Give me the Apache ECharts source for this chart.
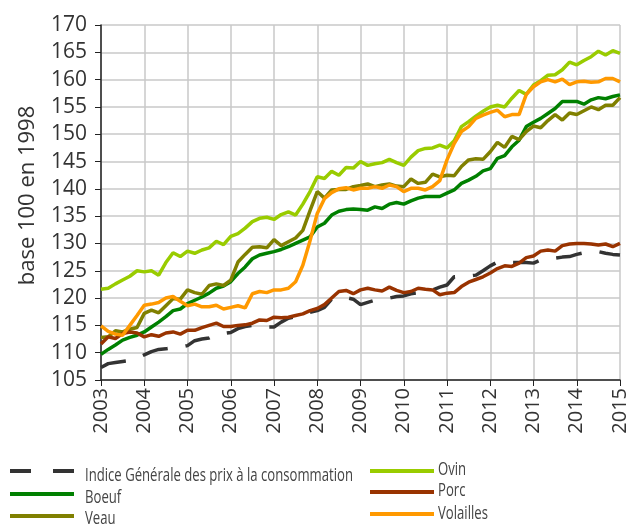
<!DOCTYPE html>
<html>
    <head>
        <meta charset="utf-8">
        <title>Prix à la consommation des viandes</title>
        <script src="https://cdn.jsdelivr.net/npm/echarts@6/dist/echarts.min.js"></script>
        <style>
            body { margin: 0; background: #fff; }
        </style>
    </head>
    <body>
        <div id="chart" style="width: 630px;height: 527px;"></div>
        <script>
            // one point every two months, jan 2003 -> jan 2015
            var months = [];
            for (var y = 2003; y <= 2015; y++) {
                ['01','03','05','07','09','11'].forEach(function (m) {
                    if (y < 2015 || m === '01') months.push(y + '-' + m);
                });
            }

            var indice = [107.3,108.0,108.2,108.4,108.6,109.0, 109.6,110.2,110.6,110.7,110.9,111.0,
                          111.3,112.2,112.5,112.7,113.3,113.5, 113.7,114.4,114.8,115.0,114.8,114.7,
                          114.7,115.6,116.3,116.6,117.0,117.4, 117.7,118.3,119.8,120.1,120.1,119.8,
                          118.8,119.2,119.6,119.8,120.0,120.3, 120.4,120.8,121.0,121.2,121.5,122.0,
                          122.4,123.9,123.9,124.0,124.2,125.0, 125.9,126.6,126.7,126.5,126.5,126.5,
                          126.4,127.0,127.3,127.3,127.5,127.6, 128.0,128.3,128.5,128.5,128.2,128.0, 127.9];
            var boeuf = [109.7,110.6,111.4,112.3,112.8,113.2, 113.8,114.7,115.6,116.6,117.7,118.0,
                         119.0,119.6,120.2,120.9,121.8,122.2, 123.0,124.5,125.7,127.2,127.9,128.2,
                         128.5,128.9,129.4,130.0,130.6,131.2, 133.0,133.7,135.2,135.9,136.2,136.3,
                         136.2,136.1,136.7,136.4,137.2,137.5, 137.2,137.8,138.3,138.6,138.6,138.6,
                         139.2,139.8,141.0,141.6,142.3,143.3, 143.7,145.6,146.1,147.7,148.9,151.4,
                         152.2,152.9,153.8,154.7,156.0,156.0, 156.0,155.5,156.3,156.7,156.5,156.9, 157.2];
            var veau = [112.8,112.9,114.0,113.8,114.3,114.6, 117.2,117.8,117.3,118.6,119.9,119.8,
                        121.5,121.0,120.7,122.3,122.6,122.3, 123.3,126.6,128.0,129.3,129.4,129.2,
                        130.7,129.6,130.3,131.0,132.4,136.0, 139.5,138.3,139.8,139.9,139.9,140.4,
                        140.6,140.9,140.4,140.7,140.9,140.5, 140.4,141.8,141.0,141.2,142.7,142.2,
                        142.5,142.4,144.1,145.3,145.5,145.4, 146.8,148.5,147.6,149.6,149.0,150.5,
                        151.5,151.2,152.5,153.6,152.6,153.9, 153.6,154.3,155.0,154.5,155.3,155.3, 156.7];
            var ovin = [121.6,121.8,122.6,123.3,124.0,125.0, 124.8,125.0,124.2,126.5,128.3,127.6,
                        128.6,128.2,128.8,129.2,130.4,129.8, 131.3,131.8,132.8,134.0,134.6,134.8,
                        134.4,135.3,135.8,135.2,137.2,139.5, 142.2,141.9,143.2,142.5,143.9,143.8,
                        145.0,144.3,144.6,144.8,145.4,144.8, 144.3,145.8,147.0,147.4,147.5,148.0,
                        147.5,148.8,151.4,152.3,153.3,154.2, 155.0,155.3,155.0,156.6,158.0,157.3,
                        159.0,159.8,160.8,160.9,161.8,163.2, 162.7,163.5,164.2,165.2,164.5,165.3, 164.8];
            var porc = [111.6,112.9,112.6,113.5,113.8,113.6, 112.9,113.3,113.0,113.6,113.8,113.4,
                        114.1,114.1,114.6,115.0,115.4,114.8, 114.8,115.0,115.1,115.4,116.0,115.9,
                        116.5,116.4,116.5,116.8,117.1,117.7, 118.1,118.8,120.0,121.2,121.4,120.8,
                        121.5,121.8,121.5,121.3,122.0,121.4, 121.0,121.2,121.8,121.6,121.5,120.6,
                        120.9,121.0,122.1,122.9,123.4,123.9, 124.6,125.4,125.9,125.8,126.4,127.4,
                        127.7,128.6,128.8,128.6,129.6,129.9, 130.0,130.0,129.9,129.7,129.9,129.4, 130.0];
            var volailles = [114.9,113.9,113.4,113.2,115.0,116.8, 118.7,118.9,119.2,120.0,120.3,119.4,
                             118.6,118.9,118.4,118.4,118.7,118.0, 118.3,118.6,118.2,120.8,121.2,121.0,
                             121.5,121.5,121.8,123.0,126.0,130.5, 135.5,138.2,139.3,140.0,140.2,139.8,
                             140.1,140.1,140.4,140.1,140.7,140.4, 139.5,140.1,140.1,139.8,140.4,141.5,
                             145.3,148.3,150.5,151.4,152.9,153.5, 154.0,154.4,153.2,153.6,153.6,157.3,
                             158.7,159.6,160.0,159.6,160.1,159.1, 159.6,159.7,159.5,159.6,160.2,160.2, 159.6];

            var names = ['Indice Générale des prix à la consommation', 'Boeuf', 'Veau', 'Ovin', 'Porc', 'Volailles'];
            var colors = ['#333333', '#008000', '#808000', '#99cc00', '#993300', '#ff9900'];
            var values = [indice, boeuf, veau, ovin, porc, volailles];

            var font = 'Open Sans';
            var legendFontSize = 18;

            // the legend font of the original is a condensed one, none is installed:
            // squeeze a normal one horizontally so the long label fits its width
            var ctx = document.createElement('canvas').getContext('2d');
            ctx.font = legendFontSize + 'px ' + font;
            var squeeze = 268 / ctx.measureText(names[0]).width;

            // legend rows drawn by hand (two columns)
            var legendPos = [
                { x: 10, y: 471, ty: 476 }, { x: 10, y: 494, ty: 498 }, { x: 10, y: 516, ty: 519 },
                { x: 370, y: 471, ty: 470 }, { x: 370, y: 492, ty: 491 }, { x: 370, y: 514, ty: 514 }
            ];
            var legendItems = [];
            names.forEach(function (n, i) {
                var p = legendPos[i];
                legendItems.push({
                    type: 'line',
                    shape: { x1: p.x, y1: p.y, x2: p.x + 64, y2: p.y },
                    style: { stroke: colors[i], lineWidth: 4, lineDash: i === 0 ? [21, 22] : null }
                });
                legendItems.push({
                    type: 'text',
                    x: p.x + (i < 3 ? 75 : 68), y: p.ty,
                    scaleX: squeeze,
                    style: {
                        text: n, fill: '#444',
                        fontFamily: font, fontSize: legendFontSize,
                        verticalAlign: 'middle'
                    }
                });
            });

            var series = names.map(function (n, i) {
                return {
                    name: n,
                    type: 'line',
                    data: values[i],
                    symbol: 'none',
                    z: i === 0 ? 1 : 2,
                    lineStyle: { color: colors[i], width: 3.5, type: i === 0 ? [26, 18] : 'solid' },
                    itemStyle: { color: colors[i] }
                };
            });

            var option = {
                animation: false,
                grid: { left: 101, right: 10, top: 25, bottom: 147 },
                graphic: legendItems,
                xAxis: {
                    type: 'category',
                    data: months,
                    boundaryGap: false,
                    axisLine: { lineStyle: { color: '#222', width: 1.5 } },
                    axisTick: { interval: 5, length: 6, lineStyle: { color: '#222' } },
                    splitLine: { show: true, interval: 5, lineStyle: { color: '#c8c8c8', width: 1.5 } },
                    axisLabel: {
                        interval: 5, rotate: 90, margin: 8,
                        fontFamily: font, fontSize: 20, color: '#333',
                        formatter: function (v) { return v.slice(0, 4); }
                    }
                },
                yAxis: {
                    type: 'value',
                    min: 105, max: 170, interval: 5,
                    name: 'base 100 en 1998',
                    nameLocation: 'middle', nameGap: 62, nameRotate: 90,
                    nameTextStyle: { fontFamily: font, fontSize: 22, color: '#333', padding: [0, 0, 0, 14] },
                    axisLine: { show: true, lineStyle: { color: '#222', width: 1.5 } },
                    axisTick: { show: true, length: 6, lineStyle: { color: '#222' } },
                    splitLine: { lineStyle: { color: '#c8c8c8', width: 1.5 } },
                    axisLabel: { margin: 14, fontFamily: font, fontSize: 21, color: '#333' }
                },
                series: series
            };

            var chart = echarts.init(document.getElementById('chart'));
            chart.setOption(option);
        </script>
    </body>
</html>
